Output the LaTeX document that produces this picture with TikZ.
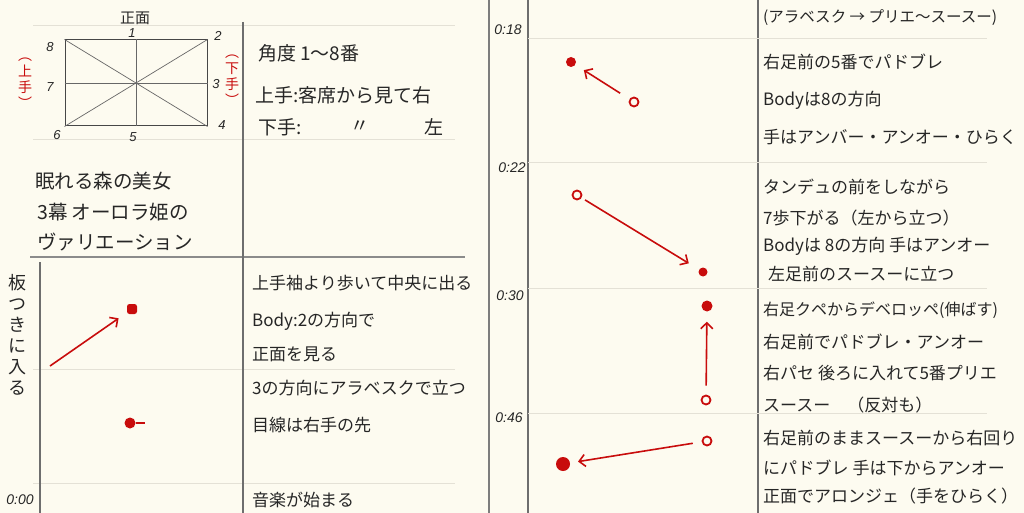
\documentclass[tikz,border=0pt]{standalone}
\usepackage{fontspec}
\setmainfont{Noto Sans CJK JP}
\newfontfamily\timefont{Liberation Sans}
\usetikzlibrary{shapes}
\usetikzlibrary{arrows,arrows.meta}
\definecolor{paper}{HTML}{FDFBF0}
\definecolor{pen}{HTML}{C80C0C}
\definecolor{ink}{HTML}{262626}
\definecolor{rule}{HTML}{E4E1D6}
\definecolor{frame}{HTML}{6E6E6E}

\begin{document}
\begin{tikzpicture}[x=1pt,y=-1pt]
					\tikzstyle{memo}=[anchor=west,inner sep=0pt,text=ink,font=\fontsize{17}{19}\selectfont]
					\tikzstyle{title}=[memo,font=\fontsize{19.5}{21}\selectfont]
					\tikzstyle{num}=[inner sep=0pt,text=ink,font=\timefont\itshape\fontsize{13}{14}\selectfont]
					\tikzstyle{time}=[inner sep=0pt,text=ink,font=\timefont\itshape\fontsize{14}{15}\selectfont]
					\tikzstyle{fulldot}=[circle,fill=pen,inner sep=0pt,minimum size=11pt]
					\tikzstyle{opendot}=[circle,draw=pen,line width=1.8pt,inner sep=0pt,minimum size=9pt]
					\tikzstyle{move}=[-{Straight Barb[length=6pt,width=12pt]},draw=pen,line width=1.6pt]
					\tikzstyle{faint}=[draw=rule,line width=1pt]
					\tikzstyle{bold}=[draw=frame,line width=1.3pt]
					
					\useasboundingbox (0,0) rectangle (1024,513);
					\fill[paper] (0,0) rectangle (1024,513);
					
					% ruled lines
					\foreach \y in {26,140,369,483} \draw[faint] (33,\y) -- (455,\y);
					\draw[bold,draw=frame!80] (30,257) -- (465,257);
					\draw[bold] (243,22) -- (243,513);
					\draw[bold] (40,262) -- (40,513);
					\draw[draw=frame!90,line width=2.6pt] (489,0) -- (489,513);
					\draw[bold] (528,0) -- (528,513);
					\draw[bold] (758,0) -- (758,513);
					\foreach \y in {39,163,288,413} \draw[faint] (528,\y) -- (987,\y);
					
					% stage
					\node[draw=ink!85,line width=1pt,minimum width=142pt,minimum height=86pt,inner sep=0pt] (stage) at (136,83) {};
					\draw[ink!70,line width=0.7pt] (stage.north) -- (stage.south);
					\draw[ink!70,line width=0.7pt] (stage.west) -- (stage.east);
					\draw[ink!70,line width=0.7pt] (stage.north west) -- (stage.south east);
					\draw[ink!70,line width=0.7pt] (stage.south west) -- (stage.north east);
					\node[text=ink,font=\fontsize{15}{16}\selectfont] (front) at (135,18) {正面};
					\node[num] (n1) at (132,33) {1};
					\node[num] (n2) at (218,36) {2};
					\node[num] (n3) at (216,84) {3};
					\node[num] (n4) at (222,125) {4};
					\node[num] (n5) at (133,137) {5};
					\node[num] (n6) at (57,135) {6};
					\node[num] (n7) at (50,87) {7};
					\node[num] (n8) at (50,47) {8};
					\node[text=pen,align=center,inner sep=0pt,font=\fontsize{14}{16}\selectfont] (kami) at (25,83) {︵\\上\\手\\︶};
					\node[text=pen,align=center,inner sep=0pt,font=\fontsize{14}{16}\selectfont] (shimo) at (232,80) {︵\\下\\手\\︶};
					
					\node[title] (t1) at (35,181) {眠れる森の美女};
					\node[title] (t2) at (37,212) {3幕 オーロラ姫の};
					\node[title] (t3) at (37,242) {ヴァリエーション};
					
					\node[memo,font=\fontsize{19}{21}\selectfont] (angle) at (258,53) {角度 1〜8番};
					\node[memo,font=\fontsize{19}{21}\selectfont] (left) at (255,95) {上手:客席から見て右};
					\node[memo,font=\fontsize{19}{21}\selectfont] (right) at (258,127) {下手:};
					\node[memo,font=\fontsize{19}{21}\selectfont] (ditto) at (350,127) {〃};
					\node[memo,font=\fontsize{19}{21}\selectfont] (hidari) at (424,127) {左};
					
					% entrance
					\node[text=ink,align=center,inner sep=0pt,font=\fontsize{18}{21}\selectfont] (enter) at (18,335) {板\\つ\\き\\に\\入\\る};
					\node[time] (t000) at (20,500) {0:00};
					\coordinate (wing) at (50,366);
					\node[fulldot,rectangle,rounded corners=2.5pt,minimum size=10pt] (c1) at (132,309) {};
					\node[fulldot] (c2) at (130,423) {};
					\coordinate (c2tip) at (145,423);
					\draw[move,shorten >=10pt] (wing) -- (c1);
					\draw[draw=pen,line width=1.5pt] (c2) -- (c2tip);
					\node[memo] (a1) at (252,283) {上手袖より歩いて中央に出る};
					\node[memo] (a2) at (252,321) {Body:2の方向で};
					\node[memo] (a3) at (252,354) {正面を見る};
					\node[memo] (a4) at (252,388) {3の方向にアラベスクで立つ};
					\node[memo] (a5) at (252,425) {目線は右手の先};
					\node[memo] (a6) at (252,500) {音楽が始まる};
					
					% right page
					\node[time] (t018) at (508,30) {0:18};
					\node[time] (t022) at (512,168) {0:22};
					\node[time] (t030) at (510,296) {0:30};
					\node[time] (t046) at (509,418) {0:46};
					
					\node[opendot] (o1) at (634,102) {};
					\node[fulldot,minimum size=10pt] (f1) at (571,62) {};
					\draw[move,shorten <=11pt,shorten >=10pt] (o1) -- (f1);
					\node[opendot] (o2) at (577,195) {};
					\node[fulldot,minimum size=9pt] (f2) at (703,272) {};
					\draw[move,shorten <=4pt,shorten >=12pt] (o2) -- (f2);
					\node[opendot] (o3) at (706,400) {};
					\node[fulldot] (f3) at (707,306) {};
					\draw[move,shorten <=9pt,shorten >=10pt] (o3) -- (f3);
					\node[opendot] (o4) at (707,441) {};
					\node[fulldot,minimum size=14pt] (f4) at (563,464) {};
					\draw[move,shorten <=9pt,shorten >=8pt] (o4) -- (f4);
					
					\node[memo,font=\fontsize{15.5}{17}\selectfont] (b1) at (763,18) {(アラベスク → プリエ〜スースー)};
					\node[memo] (b2) at (763,62) {右足前の5番でパドブレ};
					\node[memo] (b3) at (763,100) {Bodyは8の方向};
					\node[memo] (b4) at (763,137) {手はアンバー・アンオー・ひらく};
					\node[memo] (b5) at (763,187) {タンデュの前をしながら};
					\node[memo] (b6) at (763,218) {7歩下がる（左から立つ）};
					\node[memo] (b7) at (763,246) {Bodyは 8の方向 手はアンオー};
					\node[memo] (b8) at (768,274) {左足前のスースーに立つ};
					\node[memo,font=\fontsize{16}{18}\selectfont] (b9) at (763,310) {右足クペからデベロッペ(伸ばす)};
					\node[memo] (b10) at (763,342) {右足前でパドブレ・アンオー};
					\node[memo] (b11) at (763,373) {右パセ 後ろに入れて5番プリエ};
					\node[memo] (b12) at (763,405) {スースー\quad（反対も）};
					\node[memo] (b13) at (763,438) {右足前のままスースーから右回り};
					\node[memo] (b14) at (763,468) {にパドブレ 手は下からアンオー};
					\node[memo] (b15) at (763,496) {正面でアロンジェ（手をひらく）};
\end{tikzpicture}
\end{document}
